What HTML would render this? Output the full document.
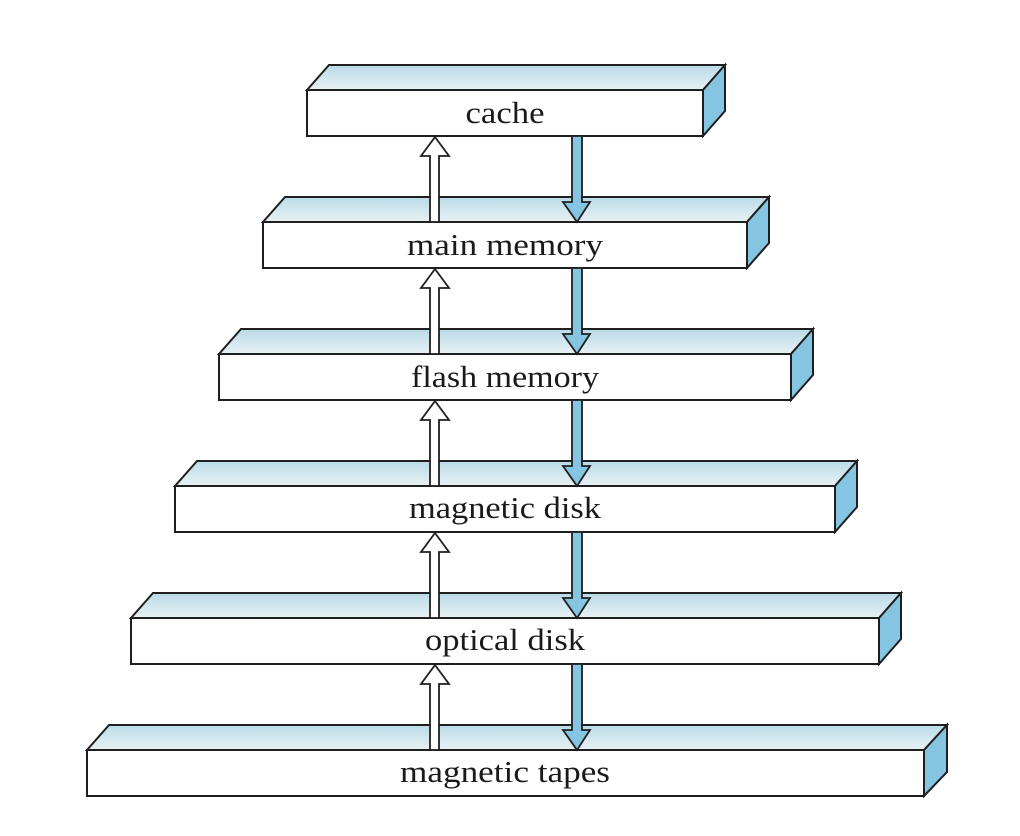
<!DOCTYPE html>
<html><head><meta charset="utf-8"><style>
html,body{margin:0;padding:0;background:#fff;}
svg{display:block;}
text{font-family:"Liberation Serif",serif;font-size:31px;fill:#1a1a1a;}
</style></head><body>
<svg width="1020" height="836" viewBox="0 0 1020 836" xmlns="http://www.w3.org/2000/svg">
<defs>
<linearGradient id="tg" x1="0" y1="0" x2="0" y2="1">
<stop offset="0" stop-color="#b9dbe8"/><stop offset="1" stop-color="#e9f1f4"/>
</linearGradient>
</defs>
<g stroke="#1f1f1f" stroke-width="2" stroke-linejoin="miter">
<!-- levels: x0, x1, y -->
<g id="l1">
<polygon points="307,90 329,65 725,65 703,90" fill="url(#tg)"/>
<polygon points="703,90 725,65 725,111 703,136" fill="#86c5e1"/>
<rect x="307" y="90" width="396" height="46" fill="#fff"/>
</g>
<polygon points="263,222 285,197 769,197 747,222" fill="url(#tg)"/>
<polygon points="747,222 769,197 769,243 747,268" fill="#86c5e1"/>
<rect x="263" y="222" width="484" height="46" fill="#fff"/>

<polygon points="219,354 241,329 813,329 791,354" fill="url(#tg)"/>
<polygon points="791,354 813,329 813,375 791,400" fill="#86c5e1"/>
<rect x="219" y="354" width="572" height="46" fill="#fff"/>

<polygon points="175,486 197,461 857,461 835,486" fill="url(#tg)"/>
<polygon points="835,486 857,461 857,507 835,532" fill="#86c5e1"/>
<rect x="175" y="486" width="660" height="46" fill="#fff"/>

<polygon points="131,618 153,593 901,593 879,618" fill="url(#tg)"/>
<polygon points="879,618 901,593 901,639 879,664" fill="#86c5e1"/>
<rect x="131" y="618" width="748" height="46" fill="#fff"/>

<polygon points="87,750 109,725 947,725 924,750" fill="url(#tg)"/>
<polygon points="924,750 947,725 947,772 924,796" fill="#86c5e1"/>
<rect x="87" y="750" width="837" height="46" fill="#fff"/>
</g>
<!-- arrows -->
<g stroke="#1f1f1f" stroke-width="1.8" stroke-linejoin="miter">
<g id="ar">
<polygon points="435,137 449,156 439,156 439,222 430,222 430,156 421,156" fill="#fff"/>
<polygon points="572,136 582,136 582,202 590,202 577,222 563,202 572,202" fill="#86c5e1"/>
</g>
<use href="#ar" y="132"/>
<use href="#ar" y="264"/>
<use href="#ar" y="396"/>
<use href="#ar" y="528"/>
</g>
<text x="505" y="123" text-anchor="middle" textLength="79" lengthAdjust="spacingAndGlyphs">cache</text>
<text x="505" y="255" text-anchor="middle" textLength="196" lengthAdjust="spacingAndGlyphs">main memory</text>
<text x="505" y="387" text-anchor="middle" textLength="188" lengthAdjust="spacingAndGlyphs">flash memory</text>
<text x="505" y="518" text-anchor="middle" textLength="192" lengthAdjust="spacingAndGlyphs">magnetic disk</text>
<text x="505" y="650" text-anchor="middle" textLength="160" lengthAdjust="spacingAndGlyphs">optical disk</text>
<text x="505" y="782" text-anchor="middle" textLength="210" lengthAdjust="spacingAndGlyphs">magnetic tapes</text>
</svg>
</body></html>
